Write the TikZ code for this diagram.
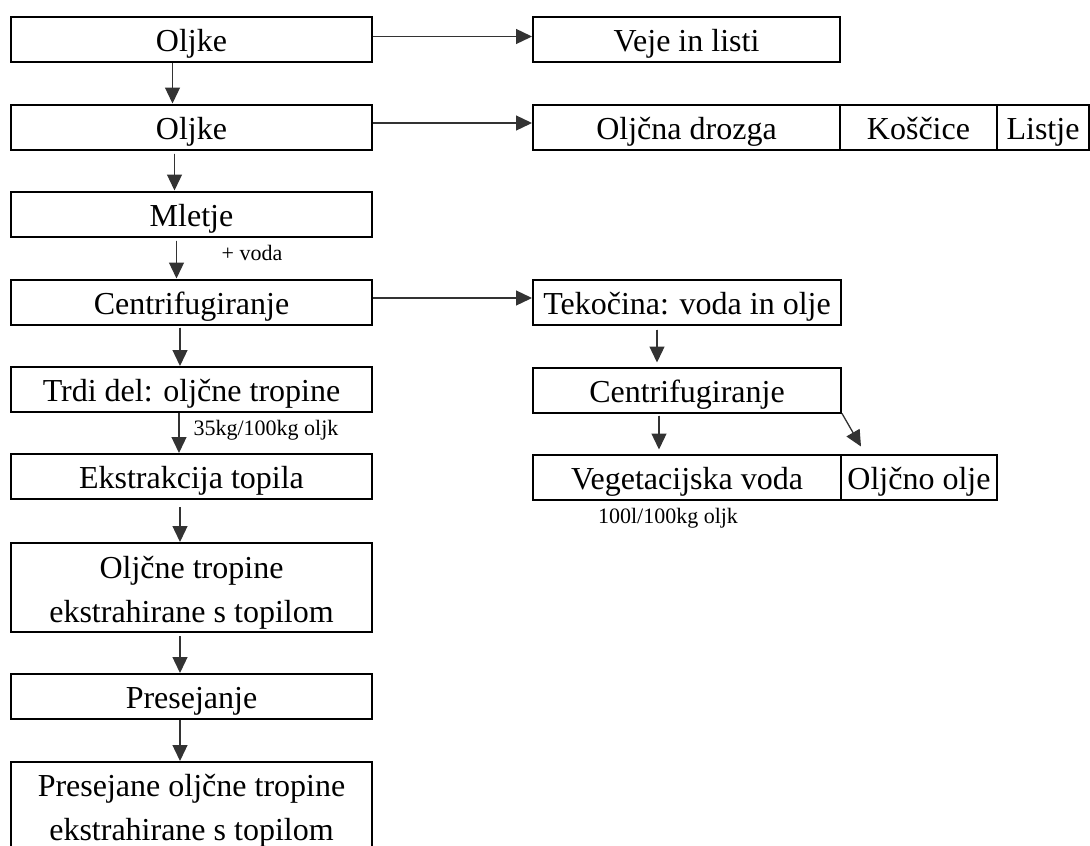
\documentclass[tikz,border=0pt]{standalone}
\usepackage{fontspec}
\setmainfont{Liberation Serif}
\usetikzlibrary{arrows.meta,positioning}

\tikzset{
  korak/.style={draw=black,line width=2pt,rectangle,inner sep=0pt,
    minimum width=361pt,minimum height=45pt,text height=30pt,text depth=6pt,
    font=\fontsize{32}{44}\selectfont},
  korak2/.style={korak,text height=,text depth=,align=center,minimum height=89pt},
  opomba/.style={inner sep=0pt,font=\fontsize{22}{26}\selectfont},
  pil/.style={-{Triangle[length=16pt,width=15pt]},line width=1.3pt,draw=black!80,fill=black}
}

\begin{document}
\begin{tikzpicture}[x=1pt,y=-1pt]
\useasboundingbox (0,0) rectangle (1090,846);

% main column
\node[korak] (olj1) at (191.5,39.5) {Oljke};
\node[korak] (olj2) at (191.5,127) {Oljke};
\node[korak] (mlet) at (191.5,214) {Mletje};
\node[korak] (cent) at (191.5,302) {Centrifugiranje};
\node[korak] (trdi) at (191.5,389.5) {Trdi del: olj\v{c}ne tropine};
\node[korak] (ekst) at (191.5,476.5) {Ekstrakcija topila};
\node[korak2] (trop) at (191.5,587.5) {\rule{0pt}{32pt}Olj\v{c}ne tropine\\ekstrahirane s topilom};
\node[korak] (pres) at (191.5,696.5) {Presejanje};
\node[korak2] (kon) at (191.5,806.5) {\rule{0pt}{30pt}Presejane olj\v{c}ne tropine\\ekstrahirane s topilom};

% side products
\node[korak,minimum width=307pt] (veje) at (686.5,39.5) {Veje in listi};
\node[korak,minimum width=307pt] (drozga) at (686.5,127) {Olj\v{c}na drozga};
\node[korak,minimum width=157pt] (kosc) at (918.5,127) {Ko\v{s}\v{c}ice};
\node[korak,minimum width=92pt] (listje) at (1043,127) {Listje};

% liquid branch
\node[korak,minimum width=308pt] (tek) at (687,302) {Teko\v{c}ina: voda in olje};
\node[korak,minimum width=308pt] (cent2) at (687,390) {Centrifugiranje};
\node[korak,minimum width=308pt] (veg) at (687,477) {Vegetacijska voda};
\node[korak,minimum width=156pt] (olje) at (919,477) {Olj\v{c}no olje};

% notes
\node[opomba] (voda) at (252,253) {+ voda};
\node[opomba] (tropkg) at (266,430) {35kg/100kg oljk};
\node[opomba] (vegl) at (668,518) {100l/100kg oljk};

% arrows down the main column
\draw[pil] ([xshift=-19pt]olj1.south) -- ([xshift=-19pt]olj2.north);
\draw[pil,shorten <=3pt] ([xshift=-17pt]olj2.south) -- ([xshift=-17pt]mlet.north);
\draw[pil,shorten <=3pt] ([xshift=-15pt]mlet.south) -- ([xshift=-15pt]cent.north);
\draw[pil,shorten <=2pt] ([xshift=-11.5pt]cent.south) -- ([xshift=-11.5pt]trdi.north);
\draw[pil] ([xshift=-12.5pt]trdi.south) -- ([xshift=-12.5pt]ekst.north);
\draw[pil,shorten <=7pt] ([xshift=-11.5pt]ekst.south) -- ([xshift=-11.5pt]trop.north);
\draw[pil,shorten <=3pt] ([xshift=-11.5pt]trop.south) -- ([xshift=-11.5pt]pres.north);
\draw[pil] ([xshift=-11.5pt]pres.south) -- ([xshift=-11.5pt]kon.north);

% arrows to the right
\draw[pil] ([yshift=3pt]olj1.east) -- ([yshift=3pt]veje.west);
\draw[pil] ([yshift=4pt]olj2.east) -- ([yshift=4pt]drozga.west);
\draw[pil] ([yshift=4pt]cent.east) -- ([yshift=4pt]tek.west);

% liquid branch arrows
\draw[pil,shorten <=4pt,shorten >=4pt] ([xshift=-30pt]tek.south) -- ([xshift=-30pt]cent2.north);
\draw[pil,shorten <=2pt,shorten >=4pt] ([xshift=-28pt]cent2.south) -- ([xshift=-28pt]veg.north);
\draw[pil] (cent2.south east) -- ([xshift=21pt,yshift=7pt]olje.north west);
\end{tikzpicture}
\end{document}
